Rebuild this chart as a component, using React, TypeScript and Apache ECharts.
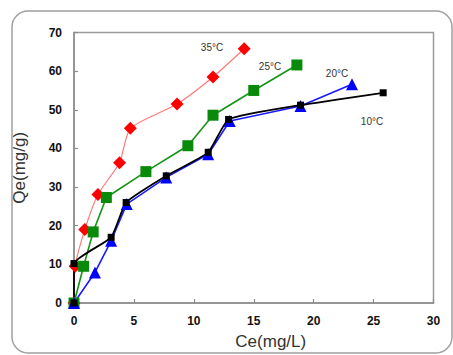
import React, { useEffect, useRef } from "react";
import * as echarts from "echarts";

const xTicks = [0, 5, 10, 15, 20, 25, 30];
const yTicks = [0, 10, 20, 30, 40, 50, 60, 70];

const red35X = [0, 0.1, 0.9, 2.0, 3.8, 4.7, 8.6, 11.6, 14.2];
const red35Y = [0, 9.5, 19, 28.1, 36.3, 45.2, 51.5, 58.5, 65.8];

const green25X = [0, 0.8, 1.6, 2.7, 6.0, 9.5, 11.6, 15.0, 18.6];
const green25Y = [0, 9.5, 18.4, 27.3, 34.0, 40.7, 48.6, 55.0, 61.6];

const blue20X = [0, 1.75, 3.1, 4.4, 7.7, 11.2, 13.0, 18.9, 23.2];
const blue20Y = [0, 7.9, 16.1, 25.6, 32.5, 38.5, 47.1, 51.0, 56.6];

const black10X = [0, 0, 3.1, 4.35, 7.7, 11.2, 12.9, 18.9, 25.8];
const black10Y = [0, 10.2, 17.0, 26.0, 32.9, 39.0, 47.5, 51.2, 54.4];

const seriesNames = ["35°C", "25°C", "20°C", "10°C"];

const zip = (xs: number[], ys: number[]) => xs.map((x, i) => [x, ys[i]]);

const FONT = "Arial, 'Liberation Sans', sans-serif";

export default function App() {
  const ref = useRef<HTMLDivElement>(null);
  useEffect(() => {
    if (!ref.current) return;
    const chart = echarts.init(ref.current, undefined, { renderer: "svg" });
    const axisCommon = {
      axisLine: { show: true, lineStyle: { color: "#8c8c8c", width: 1.5 } },
      axisTick: { show: true, inside: true, length: 4, lineStyle: { color: "#8c8c8c", width: 1.2 } },
      splitLine: { show: false },
      axisLabel: { color: "#111", fontWeight: "bold" as const, fontSize: 12, fontFamily: FONT, margin: 12 },
    };
    const lbl = (text: string, x: number, y: number) => ({
      type: "text",
      x,
      y,
      style: { text, fontSize: 10, fill: "#333", fontFamily: FONT, align: "center", verticalAlign: "middle" },
    });
    chart.setOption({
      animation: false,
      backgroundColor: "#fff",
      grid: {
        left: 74,
        right: 19.5,
        top: 32.5,
        bottom: 51,
        show: true,
        borderColor: "#9a9a9a",
        borderWidth: 1.5,
        backgroundColor: "transparent",
      },
      xAxis: {
        type: "value",
        min: xTicks[0],
        max: xTicks[xTicks.length - 1],
        interval: 5,
        ...axisCommon,
        name: "Ce(mg/L)",
        nameLocation: "middle",
        nameGap: 30,
        nameTextStyle: { fontSize: 17, color: "#333", fontFamily: FONT, padding: [0, 0, 0, 34] },
      },
      yAxis: {
        type: "value",
        min: yTicks[0],
        max: yTicks[yTicks.length - 1],
        interval: 10,
        ...axisCommon,
        name: "Qe(mg/g)",
        nameLocation: "middle",
        nameGap: 46,
        nameTextStyle: { fontSize: 17, color: "#333", fontFamily: FONT },
      },
      graphic: [
        {
          type: "rect",
          shape: { x: 12, y: 11, width: 440, height: 342, r: 16 },
          style: { fill: "none", stroke: "#a0a0a0", lineWidth: 1.5 },
          silent: true,
          z: -1,
        },
        lbl(seriesNames[0], 212, 47),
        lbl(seriesNames[1], 270, 66),
        lbl(seriesNames[2], 337, 73),
        lbl(seriesNames[3], 372, 121),
      ],
      series: [
        {
          name: seriesNames[0],
          type: "line",
          data: zip(red35X, red35Y),
          smooth: 0.2,
          symbol: "diamond",
          symbolSize: 13,
          lineStyle: { color: "#ff7a7a", width: 1.2 },
          itemStyle: { color: "#ff0000" },
        },
        {
          name: seriesNames[1],
          type: "line",
          data: zip(green25X, green25Y),
          symbol: "rect",
          symbolSize: 11,
          lineStyle: { color: "#149414", width: 1.6 },
          itemStyle: { color: "#0a8a0a" },
        },
        {
          name: seriesNames[2],
          type: "line",
          data: zip(blue20X, blue20Y),
          symbol: "triangle",
          symbolSize: 12,
          lineStyle: { color: "#1a1aff", width: 1.6 },
          itemStyle: { color: "#0000ff" },
        },
        {
          name: seriesNames[3],
          type: "line",
          data: zip(black10X, black10Y),
          smooth: 0.15,
          symbol: "rect",
          symbolSize: 7,
          lineStyle: { color: "#000", width: 1.8 },
          itemStyle: { color: "#000" },
        },
      ],
    });
    return () => chart.dispose();
  }, []);
  return <div ref={ref} style={{ position: "fixed", left: 0, top: 0, width: 453, height: 355 }} />;
}
